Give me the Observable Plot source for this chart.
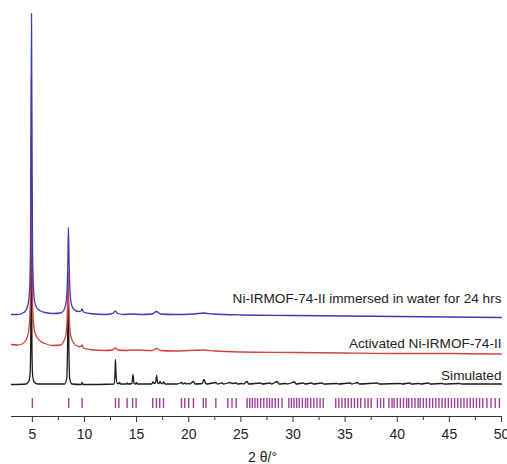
<!DOCTYPE html>
<html>
<head>
<meta charset="utf-8">
<script src="https://cdn.jsdelivr.net/npm/d3@7"></script>
<script src="https://cdn.jsdelivr.net/npm/@observablehq/plot@0.6"></script>
<style>
  html, body { margin: 0; padding: 0; background: #fff; }
  #chart svg { display: block; }
</style>
</head>
<body>
<div id="chart"></div>
<script>
// Powder X-ray diffraction patterns of Ni-IRMOF-74-II (2θ in degrees, intensity in a.u.)

// Series names drawn beside each pattern
const seriesNames = ["Simulated", "Activated Ni-IRMOF-74-II", "Ni-IRMOF-74-II immersed in water for 24 hrs"];

// Simulated pattern: [2θ, intensity]
const simulated = [
  [3.0, 0], [4.4, 0.5], [4.65, 3], [4.78, 10], [4.84, 39], [4.9, 249], [4.96, 39], [5.02, 10], [5.15, 3], [5.5, 0.5],
  [8.1, 0.5], [8.3, 6], [8.37, 34], [8.44, 94], [8.51, 34], [8.58, 6], [8.8, 0.5],
  [9.7, 0], [9.78, 2], [9.86, 0],
  [12.85, 0.5], [12.93, 12], [12.97, 25], [13.02, 12], [13.12, 1], [13.3, 1], [13.37, 2], [13.45, 0.5],
  [14.05, 0.5], [14.1, 1.5], [14.18, 0.5], [14.55, 1], [14.65, 10], [14.75, 1], [14.92, 0.5], [14.98, 2], [15.08, 0.5],
  [16.45, 0.5], [16.58, 2.5], [16.68, 1], [16.82, 2], [16.92, 9], [17.02, 1.5], [17.15, 1], [17.25, 3], [17.35, 1],
  [17.5, 1], [17.6, 2.5], [17.72, 0.5], [18.9, 0.5], [19.35, 2], [19.45, 0.5], [19.65, 1.5], [19.8, 0.5],
  [20.0, 1], [20.1, 0.5], [20.45, 3], [20.6, 0.5], [21.3, 1], [21.45, 5], [21.6, 1.5], [21.75, 0.5],
  [22.6, 2], [22.75, 0.5], [23.2, 1.5], [23.35, 0.5], [24.0, 2], [24.15, 1], [24.55, 1.5], [24.7, 0.5],
  [25.1, 1], [25.25, 0.5], [25.6, 3], [25.75, 0.5], [26.9, 1.5], [27.05, 0.5], [27.8, 1.5], [27.95, 0.5],
  [28.5, 3], [28.65, 0.5], [29.3, 1], [29.45, 0.5], [30.15, 2.5], [30.3, 0.5], [31.0, 1.5], [31.15, 0.5],
  [31.8, 1.5], [31.95, 0.5], [32.8, 1.5], [32.95, 0.5], [34.2, 1], [34.35, 0.5], [35.5, 1.5], [35.65, 0.5],
  [36.2, 2], [36.35, 0.5], [38.1, 1.5], [38.25, 0.5], [40.3, 1], [40.45, 0.5], [41.2, 1.5], [41.35, 0.5],
  [42.1, 1], [42.25, 0.5], [43.0, 1.5], [43.15, 0.5], [44.3, 1], [44.45, 0.5], [46.0, 1], [46.15, 0.5],
  [47.5, 0.5], [50.0, 0.5]
];

// Activated sample: [2θ, intensity]
const activated = [
  [3.0, 6], [3.6, 5.5], [4.0, 6.5], [4.3, 9], [4.5, 13], [4.65, 20], [4.75, 32], [4.82, 60], [4.86, 150], [4.9, 273],
  [4.95, 150], [5.0, 60], [5.08, 32], [5.2, 20], [5.4, 14], [5.7, 10], [6.2, 7], [7.0, 5], [7.7, 5.5],
  [8.0, 9], [8.2, 15], [8.32, 28], [8.38, 50], [8.43, 78], [8.49, 50], [8.56, 28], [8.7, 14], [9.0, 7],
  [9.4, 4], [9.65, 4], [9.77, 5.5], [9.9, 2.5], [10.5, 1], [12.0, 0], [12.7, 0.5], [12.95, 2.5], [13.2, 0.5],
  [14.0, 0], [14.5, 0.5], [16.5, 0], [16.9, 2], [17.3, 0], [18.5, -0.5], [21.4, 0.5], [22.5, -0.5],
  [25.0, -1.5], [30.0, -2], [35.0, -2.5], [40.0, -3], [45.0, -3], [50.0, -3.5]
];

// Sample after 24 h in water: [2θ, intensity]
const immersed = [
  [3.0, 0], [3.6, 0], [4.0, 1], [4.3, 3], [4.5, 7], [4.65, 14], [4.75, 28], [4.82, 64], [4.87, 154], [4.92, 301],
  [4.97, 154], [5.02, 64], [5.1, 28], [5.2, 14], [5.4, 7], [5.7, 4], [6.2, 2], [7.0, 1], [7.7, 1.5],
  [8.0, 4], [8.2, 10], [8.32, 22], [8.4, 49], [8.46, 87], [8.53, 49], [8.62, 22], [8.75, 10], [9.0, 5],
  [9.4, 3], [9.65, 3.5], [9.77, 5.5], [9.9, 2.5], [10.5, 1], [12.0, 0], [12.7, 1], [12.95, 3.5], [13.2, 1],
  [13.8, 0], [14.4, 0.5], [15.5, 0], [16.5, 0.5], [16.9, 3], [17.3, 0.5], [18.5, 0], [20.5, 0.5],
  [21.4, 1.5], [22.3, 0.5], [25.0, -0.5], [30.0, -1], [35.0, -1.5], [40.0, -2], [45.0, -2.5], [50.0, -3]
];

// Calculated reflection positions (2θ)
const reflections = [
  5.0, 8.49, 9.77, 12.97, 13.3, 14.09, 14.62, 14.95, 16.55, 16.9, 17.22, 17.58,
  19.3, 19.62, 20.0, 20.45, 21.4, 21.65, 22.6, 23.75, 24.15, 24.55,
  25.6, 25.85, 26.1, 26.35, 26.6, 26.9, 27.2, 27.5, 27.75, 28.0, 28.3, 28.6, 28.95,
  29.6, 29.85, 30.1, 30.35, 30.6, 30.9, 31.2, 31.4, 31.7, 32.0, 32.3, 32.6, 32.9,
  34.1, 34.4, 34.7, 35.0, 35.3, 35.6, 35.9, 36.2, 36.5, 36.9, 37.2, 37.5,
  38.1, 38.4, 38.7, 39.2, 39.5, 39.7, 40.0, 40.3, 40.6, 40.9, 41.1, 41.4, 41.7, 42.0,
  42.2, 42.5, 42.8, 43.1, 43.4, 43.7, 44.0, 44.3, 44.6, 44.9, 45.2, 45.5, 45.8, 46.1,
  46.4, 46.7, 47.0, 47.3, 47.6, 47.9, 48.2, 48.6, 49.0, 49.4, 49.8
];

// Axis ticks
const majorTicks = [5, 10, 15, 20, 25, 30, 35, 40, 45, 50];
const minorTicks = [7.5, 12.5, 17.5, 22.5, 27.5, 32.5, 37.5, 42.5, 47.5];

// Stacked layout: vertical offset of each pattern and lift of its name above it
const patterns = [
  {name: seriesNames[0], data: simulated, offset: 32, lift: 9, color: "#1c1c1c"},
  {name: seriesNames[1], data: activated, offset: 66, lift: 7, color: "#d2433f"},
  {name: seriesNames[2], data: immersed, offset: 102, lift: 16, color: "#3c3cb2"}
];

const traceMarks = patterns.map(p =>
  Plot.line(p.data, {
    x: d => d[0],
    y: d => d[1] + p.offset,
    stroke: p.color,
    strokeWidth: 1.3,
    curve: "monotone-x"
  })
);

const chart = Plot.plot({
  width: 507,
  height: 464,
  marginLeft: 11,
  marginRight: 6,
  marginTop: 13,
  marginBottom: 48,
  style: {fontFamily: "'Liberation Sans', Arial, Helvetica, sans-serif", background: "#fff", color: "#222"},
  x: {domain: [3, 50]},
  y: {domain: [0, 403], axis: null},
  marks: [
    // reflection markers
    Plot.ruleX(reflections, {x: d => d, y1: 8, y2: 18, stroke: "#9c3f98", strokeWidth: 1.4}),
    ...traceMarks,
    // pattern names
    Plot.text(patterns, {
      x: () => 50,
      y: p => p.offset + p.lift,
      text: p => p.name,
      textAnchor: "end",
      fontSize: 13.6,
      fill: "#222"
    }),
    // x axis
    Plot.ruleY([0], {stroke: "#333", strokeWidth: 1.2}),
    Plot.axisX(majorTicks, {tickSize: 6, tickPadding: 7, fontSize: 14, stroke: "#333", fill: "#222", label: null}),
    Plot.axisX(minorTicks, {tickSize: 4, stroke: "#333", tickFormat: () => "", label: null}),
    Plot.text(["2 θ/°"], {frameAnchor: "bottom", lineAnchor: "middle", dy: 41, dx: 6, fontSize: 14, fill: "#222"})
  ]
});

document.getElementById("chart").appendChild(chart);
</script>
</body>
</html>
